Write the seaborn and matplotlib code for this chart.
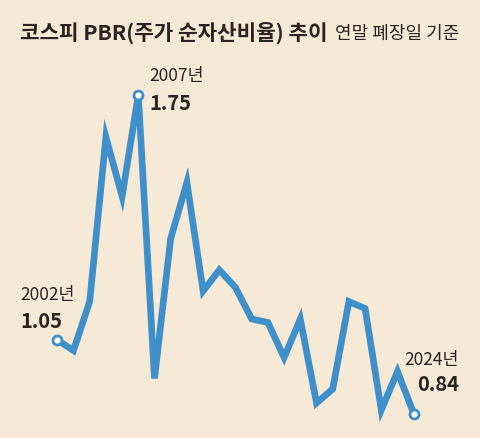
import matplotlib
matplotlib.use("Agg")
import matplotlib.pyplot as plt
import seaborn as sns
import pandas as pd

years = list(range(2002, 2025))
pbr = [1.05, 1.02, 1.16, 1.63, 1.46, 1.75, 0.94, 1.34, 1.50, 1.19, 1.25, 1.20,
       1.11, 1.10, 1.00, 1.11, 0.87, 0.91, 1.16, 1.14, 0.85, 0.96, 0.84]
highlight_years = [2002, 2007, 2024]

title = "코스피 PBR(주가 순자산비율) 추이"
subtitle = "연말 폐장일 기준"

BG = "#F6E9D5"
BLUE = "#3F8FCB"
INK = "#2A2320"

df = pd.DataFrame({"year": years, "pbr": pbr})

sns.set_theme(style="white")
plt.rcParams["font.family"] = ["Noto Sans CJK KR", "DejaVu Sans"]

fig = plt.figure(figsize=(4.8, 4.38), dpi=100, facecolor=BG)
ax = fig.add_axes([0, 0, 1, 1])
ax.set_facecolor(BG)

sns.lineplot(data=df, x="year", y="pbr", ax=ax, color=BLUE, linewidth=4.8,
             solid_joinstyle="miter", solid_capstyle="butt")

hl = df[df["year"].isin(highlight_years)]
ax.scatter(hl["year"], hl["pbr"], s=42, facecolor="white", edgecolor=BLUE,
           linewidth=2.0, zorder=5)

# pixel mapping: x = 57.3 + (year-2002)*16.2, y = 340 - (v-1.05)*350
ax.set_xlim(2002 - 57.3 / 16.2, 2002 + (480 - 57.3) / 16.2)
ax.set_ylim(1.05 - 98 / 350, 1.05 + 340 / 350)
ax.axis("off")

# (year-label offset, value offset, alignment)
labels = {
    2002: ((-37, 45), (-37, 19), "left"),
    2007: ((11, 19), (11, -8), "left"),
    2024: ((45, 53), (45, 29), "right"),
}
for yr, v in zip(hl["year"], hl["pbr"]):
    (yx, yy), (vx, vy), ha = labels[yr]
    ax.annotate(f"{yr}년", (yr, v), xytext=(yx, yy), textcoords="offset pixels",
                ha=ha, va="center", fontsize=12.5, color=INK)
    ax.annotate(f"{v:.2f}", (yr, v), xytext=(vx, vy), textcoords="offset pixels",
                ha=ha, va="center", fontsize=14.5, fontweight="bold", color=INK)

fig.text(20 / 480, 1 - 33 / 438, title, fontsize=15.3, fontweight="bold",
         color=INK, va="center", ha="left")
fig.text(335 / 480, 1 - 34 / 438, subtitle, fontsize=13, color=INK,
         va="center", ha="left")

fig.savefig("out.png", dpi=100, facecolor=BG)
